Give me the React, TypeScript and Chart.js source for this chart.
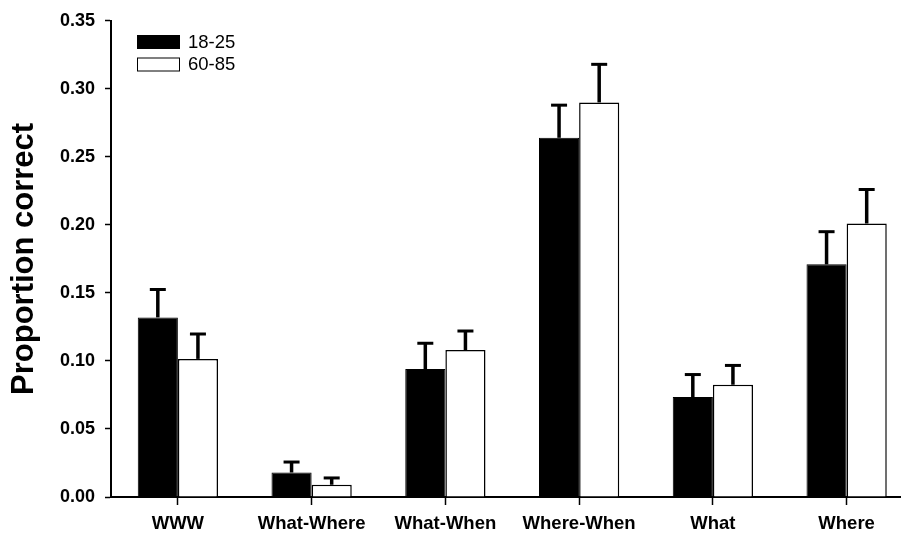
import React, { useEffect, useRef } from "react";
import { Chart, registerables } from "chart.js";

Chart.register(...registerables);

const categories = ["WWW", "What-Where", "What-When", "Where-When", "What", "Where"];
const seriesNames = ["18-25", "60-85"];
const young = [0.132, 0.018, 0.094, 0.264, 0.0735, 0.171];
const youngErr = [0.0205, 0.0077, 0.019, 0.024, 0.0165, 0.024];
const old = [0.1015, 0.009, 0.108, 0.29, 0.0825, 0.201];
const oldErr = [0.0183, 0.005, 0.014, 0.028, 0.0142, 0.025];
const yTicks = [0, 0.05, 0.1, 0.15, 0.2, 0.25, 0.3, 0.35];

const FONT = "'Liberation Sans', Arial, sans-serif";

const errorBarPlugin = {
  id: "errorBars",
  afterDatasetsDraw(chart: any) {
    const ctx = chart.ctx;
    const yScale = chart.scales.y;
    const errs = [youngErr, oldErr];
    const vals = [young, old];
    ctx.save();
    ctx.strokeStyle = "#000";
    chart.data.datasets.forEach((_: any, di: number) => {
      const meta = chart.getDatasetMeta(di);
      meta.data.forEach((el: any, i: number) => {
        const x = el.x;
        const yBase = el.y;
        const yTop = yScale.getPixelForValue(vals[di][i] + errs[di][i]);
        ctx.lineWidth = 3.5;
        ctx.beginPath();
        ctx.moveTo(x, yBase);
        ctx.lineTo(x, yTop);
        ctx.stroke();
        ctx.lineWidth = 3;
        ctx.beginPath();
        ctx.moveTo(x - 8, yTop);
        ctx.lineTo(x + 8, yTop);
        ctx.stroke();
      });
    });
    ctx.restore();
  },
};

const legendPlugin = {
  id: "customLegend",
  afterDraw(chart: any) {
    const ctx = chart.ctx;
    ctx.save();
    const boxes = [
      { y: 35, fill: "#000" },
      { y: 57.5, fill: "#fff" },
    ];
    boxes.forEach((b, i) => {
      ctx.fillStyle = b.fill;
      ctx.fillRect(137, b.y, 43, 14);
      ctx.strokeStyle = "#000";
      ctx.lineWidth = 1;
      ctx.strokeRect(137.5, b.y + 0.5, 42, 13);
      ctx.fillStyle = "#000";
      ctx.font = `18.5px ${FONT}`;
      ctx.textBaseline = "middle";
      ctx.textAlign = "left";
      ctx.fillText(seriesNames[i], 188, b.y + 7.5);
    });
    ctx.restore();
  },
};

export default function App() {
  const ref = useRef<HTMLCanvasElement | null>(null);

  useEffect(() => {
    if (!ref.current) return;
    const chart = new Chart(ref.current, {
      type: "bar",
      data: {
        labels: categories,
        datasets: [
          {
            label: seriesNames[0],
            data: young,
            backgroundColor: "#000",
            borderColor: "#000",
            borderWidth: 1,
            categoryPercentage: 0.6,
            barPercentage: 1,
          },
          {
            label: seriesNames[1],
            data: old,
            backgroundColor: "#fff",
            borderColor: "#000",
            borderWidth: 1.5,
            categoryPercentage: 0.6,
            barPercentage: 1,
          },
        ],
      },
      options: {
        responsive: false,
        animation: false,
        devicePixelRatio: 1,
        layout: { padding: { top: 16.5, right: 2.5, left: 0, bottom: 0 } },
        plugins: {
          legend: { display: false },
          tooltip: { enabled: false },
        },
        scales: {
          x: {
            offset: true,
            grid: {
              drawOnChartArea: false,
              offset: false,
              tickLength: 8,
              tickColor: "#000",
              tickWidth: 1.5,
            },
            border: { color: "#000", width: 2 },
            ticks: {
              color: "#000",
              font: { family: FONT, size: 18.5, weight: "bold" },
              padding: 8,
              maxRotation: 0,
              autoSkip: false,
            },
            afterFit: (scale: any) => {
              scale.height = 38;
            },
          },
          y: {
            min: 0,
            max: 0.35,
            afterBuildTicks: (scale: any) => {
              scale.ticks = yTicks.map((v) => ({ value: v }));
            },
            grid: {
              drawOnChartArea: false,
              tickLength: 6,
              tickColor: "#000",
              tickWidth: 1.5,
            },
            border: { color: "#000", width: 2 },
            ticks: {
              color: "#000",
              font: { family: FONT, size: 18, weight: "bold" },
              padding: 10,
              callback: (v: any) => Number(v).toFixed(2),
            },
            title: {
              display: true,
              text: "Proportion correct",
              color: "#000",
              font: { family: FONT, size: 31, weight: "bold" },
              padding: { top: 6, bottom: 0 },
            },
            afterFit: (scale: any) => {
              scale.width = 111;
            },
          },
        },
      },
      plugins: [errorBarPlugin, legendPlugin],
    });
    return () => chart.destroy();
  }, []);

  return (
    <div
      style={{
        position: "absolute",
        left: 0,
        top: 0,
        width: 901,
        height: 535,
        overflow: "hidden",
        background: "#fff",
      }}
    >
      <canvas ref={ref} width={916} height={535} style={{ width: 916, height: 535, display: "block" }} />
    </div>
  );
}
